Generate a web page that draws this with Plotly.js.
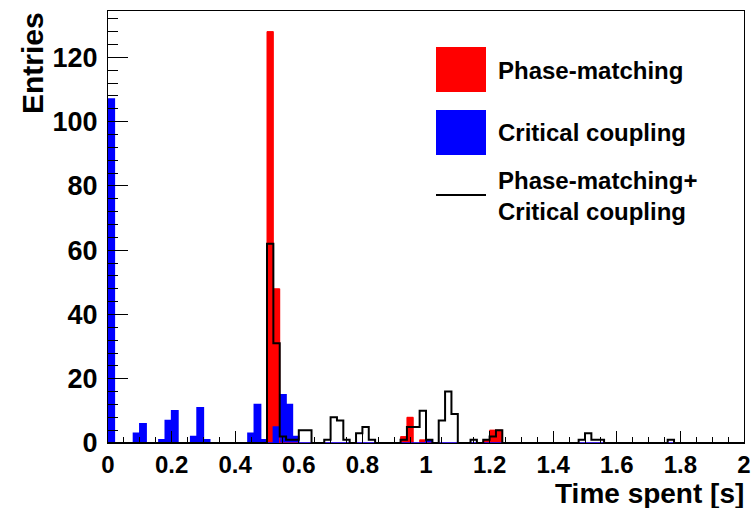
<!DOCTYPE html>
<html>
<head>
<meta charset="utf-8">
<script src="https://cdn.plot.ly/plotly-3.0.1.min.js"></script>
<style>html,body{margin:0;padding:0;background:#fff;}#chart{width:755px;height:508px;}</style>
</head>
<body>
<div id="chart"></div>
<script>
// Histogram binning: 100 bins of width 0.02 from 0 to 2
var binWidth = 0.02;
var nBins = 100;

// Non-empty bins (lower edge of bin) and entries
var redEdges  = [0.50, 0.52, 0.92, 0.94, 0.98, 1.18, 1.20, 1.22];
var redCounts = [128, 48, 2, 8, 1, 1, 4, 4];

var blueEdges  = [0.00, 0.08, 0.10, 0.16, 0.18, 0.20, 0.26, 0.28, 0.30, 0.44, 0.46, 0.48, 0.52, 0.54, 0.56, 0.58, 1.00];
var blueCounts = [107, 3, 6, 1, 7, 10, 2, 11, 1, 3, 12, 1, 5, 15, 12, 2, 1];

var blackEdges  = [0.50, 0.52, 0.54, 0.56, 0.58, 0.60, 0.62, 0.68, 0.70, 0.72, 0.74, 0.78, 0.80, 0.82,
                   0.92, 0.94, 0.96, 0.98, 1.00, 1.04, 1.06, 1.08, 1.14, 1.18, 1.20, 1.22,
                   1.48, 1.50, 1.52, 1.54, 1.76];
var blackCounts = [62, 31, 2, 1, 1, 4, 4, 1, 8, 7, 1, 3, 5, 1,
                   1, 5, 5, 10, 1, 7, 16, 9, 1, 1, 2, 4,
                   1, 3, 1, 1, 1];

var xTickVals = [0, 0.2, 0.4, 0.6, 0.8, 1, 1.2, 1.4, 1.6, 1.8, 2];
var xTickText = ['0', '0.2', '0.4', '0.6', '0.8', '1', '1.2', '1.4', '1.6', '1.8', '2'];
var yTickVals = [0, 20, 40, 60, 80, 100, 120];
var yTickText = ['0', '20', '40', '60', '80', '100', '120'];

var legendLabels = ['Phase-matching', 'Critical coupling', 'Phase-matching+<br>Critical coupling'];
var xTitle = 'Time spent [s]';
var yTitle = 'Entries';

function fullHist(edges, counts) {
  var h = [];
  for (var i = 0; i < nBins; i++) h.push(0);
  for (var j = 0; j < edges.length; j++) {
    var k = Math.round(edges[j] / binWidth);
    h[k] = counts[j];
  }
  return h;
}
function centers() {
  var c = [];
  for (var i = 0; i < nBins; i++) c.push((i + 0.5) * binWidth);
  return c;
}
function stepLine(h) {
  var xs = [0], ys = [0];
  for (var i = 0; i < nBins; i++) { xs.push(i * binWidth); ys.push(h[i]); }
  xs.push(nBins * binWidth); ys.push(h[nBins - 1]);
  xs.push(nBins * binWidth); ys.push(0);
  return {x: xs, y: ys};
}

var red = fullHist(redEdges, redCounts);
var blue = fullHist(blueEdges, blueCounts);
var black = fullHist(blackEdges, blackCounts);
var cx = centers();
var redStep = stepLine(red), blueStep = stepLine(blue), blackStep = stepLine(black);

var FONT = 'Liberation Sans, Arial, Helvetica, sans-serif';

var traces = [
  {type: 'bar', x: cx, y: red, width: binWidth, marker: {color: '#ff0000', line: {width: 0}}, showlegend: false},
  {type: 'scatter', mode: 'lines', x: redStep.x, y: redStep.y, line: {shape: 'hv', color: '#ff0000', width: 1}, showlegend: false},
  {type: 'bar', x: cx, y: blue, width: binWidth, marker: {color: '#0000ff', line: {width: 0}}, showlegend: false},
  {type: 'scatter', mode: 'lines', x: blueStep.x, y: blueStep.y, line: {shape: 'hv', color: '#0000ff', width: 1.5}, showlegend: false},
  {type: 'scatter', mode: 'lines', x: blackStep.x, y: blackStep.y, line: {shape: 'hv', color: '#000000', width: 2}, showlegend: false}
];

// pixel helpers for layout placement (plot area 108..744 x, 11..443 y)
function px(x) { return (x - 108) / 636; }
function py(y) { return (443 - y) / 432; }

var layout = {
  width: 755, height: 508,
  margin: {l: 108, r: 11, t: 11, b: 65, pad: 0},
  paper_bgcolor: '#ffffff', plot_bgcolor: '#ffffff',
  barmode: 'overlay', bargap: 0,
  showlegend: false,
  font: {family: FONT, color: '#000'},
  xaxis: {
    range: [0, 2], tickmode: 'array', tickvals: xTickVals, ticktext: xTickText,
    ticks: 'inside', ticklen: 12, tickwidth: 1, tickcolor: '#000',
    minor: {ticks: 'inside', ticklen: 6, tickwidth: 1, tickcolor: '#000', dtick: 0.05, tick0: 0},
    showline: true, linecolor: '#000', linewidth: 1, mirror: true,
    showgrid: false, zeroline: false,
    tickfont: {family: FONT, size: 24, weight: 'bold', color: '#000'},
    ticklabelstandoff: 0
  },
  yaxis: {
    range: [0, 134.4], tickmode: 'array', tickvals: yTickVals, ticktext: yTickText,
    ticks: 'inside', ticklen: 20, tickwidth: 1, tickcolor: '#000',
    minor: {ticks: 'inside', ticklen: 10, tickwidth: 1, tickcolor: '#000', dtick: 4, tick0: 0},
    showline: true, linecolor: '#000', linewidth: 1, mirror: true,
    showgrid: false, zeroline: false,
    tickfont: {family: FONT, size: 27, weight: 'bold', color: '#000'},
    ticklabelstandoff: 4
  },
  shapes: [
    {type: 'rect', xref: 'paper', yref: 'paper', x0: px(436), x1: px(486), y0: py(92), y1: py(47), fillcolor: '#ff0000', line: {width: 0}},
    {type: 'rect', xref: 'paper', yref: 'paper', x0: px(436), x1: px(486), y0: py(155), y1: py(110), fillcolor: '#0000ff', line: {width: 0}},
    {type: 'line', xref: 'paper', yref: 'paper', x0: px(436), x1: px(486), y0: py(195), y1: py(195), line: {color: '#000', width: 2}}
  ],
  annotations: [
    {xref: 'paper', yref: 'paper', x: px(496), y: py(70), xanchor: 'left', yanchor: 'middle', showarrow: false,
     text: legendLabels[0], font: {family: FONT, size: 24, weight: 'bold', color: '#000'}},
    {xref: 'paper', yref: 'paper', x: px(496), y: py(132), xanchor: 'left', yanchor: 'middle', showarrow: false,
     text: legendLabels[1], font: {family: FONT, size: 24, weight: 'bold', color: '#000'}},
    {xref: 'paper', yref: 'paper', x: px(496), y: py(196), xanchor: 'left', yanchor: 'middle', showarrow: false, align: 'left',
     text: legendLabels[2], font: {family: FONT, size: 24, weight: 'bold', color: '#000'}},
    {xref: 'paper', yref: 'paper', x: px(745), y: py(510), xanchor: 'right', yanchor: 'bottom', showarrow: false, borderpad: 0,
     text: xTitle, font: {family: FONT, size: 28, weight: 'bold', color: '#000'}},
    {xref: 'paper', yref: 'paper', x: px(33), y: py(10), xanchor: 'center', yanchor: 'top', showarrow: false, textangle: -90,
     text: yTitle, font: {family: FONT, size: 30, weight: 'bold', color: '#000'}}
  ]
};

Plotly.newPlot('chart', traces, layout, {staticPlot: true, displayModeBar: false});
</script>
</body>
</html>
